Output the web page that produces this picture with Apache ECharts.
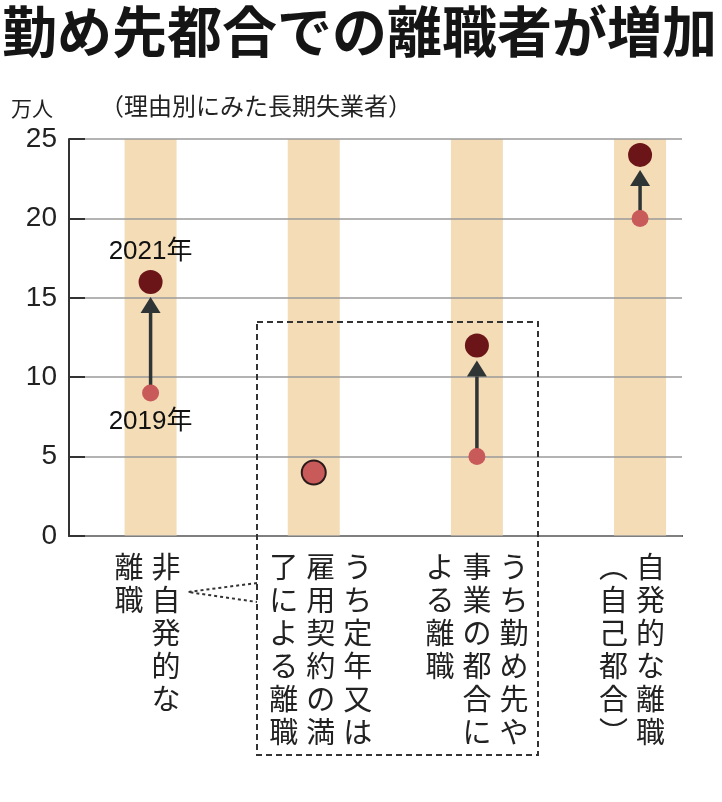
<!DOCTYPE html>
<html>
<head>
<meta charset="utf-8">
<script src="https://cdn.jsdelivr.net/npm/echarts@6/dist/echarts.min.js"></script>
<style>
  html, body { margin: 0; background: #fff; }
  #chart { width: 722px; height: 802px; }
</style>
</head>
<body>
<div id="chart"></div>
<script>
// data
const titleText = '勤め先都合での離職者が増加'
const subtitleText = '（理由別にみた長期失業者）'
const unitText = '万人'
const categories = ['非自発的な離職', 'うち定年又は雇用契約の満了による離職', 'うち勤め先や事業の都合による離職', '自発的な離職（自己都合）']
// vertical label columns, right column first
const labelColumns = [
  ['非自発的な', '離職'],
  ['うち定年又は', '雇用契約の満', '了による離職'],
  ['うち勤め先や', '事業の都合に', 'よる離職'],
  ['自発的な離職', '︵自己都合︶']
]
const catPos = [1, 2, 3, 4]
const values2019 = [9, 4, 5, 20]
const values2021 = [16, null, 12, 24]
const yTicks = [0, 5, 10, 15, 20, 25]

const axisColor = '#333'
const cjk = "'Noto Sans CJK JP', sans-serif"
const latin = "'Liberation Sans', 'Noto Sans CJK JP', sans-serif"
// small horizontal nudges of the label blocks (px, + = right)
const labelNudge = [-3, 7, 0, -8]

function verticalLabel (value) {
  const i = catPos.indexOf(value)
  if (i < 0) return ''
  const cols = labelColumns[i].slice().reverse()
  const rows = Math.max(...cols.map(c => c.length))
  const n = labelNudge[i]
  const lines = []
  for (let r = 0; r < rows; r++) {
    let line = n > 0 ? '{s|}' : ''
    cols.forEach(c => { line += '{c|' + (c[r] || '　') + '}' })
    if (n < 0) line += '{s|}'
    lines.push(line)
  }
  return lines.join('\n').replace(/\{s\|\}/g, '{s' + i + '|}')
}

const spacerRich = {}
labelNudge.forEach((n, i) => { spacerRich['s' + i] = { width: Math.abs(n) * 2, height: 1 } })

const data2019 = values2019.map((v, i) => {
  if (i === 1) {
    // lone point without a 2021 value
    return { value: [catPos[i], v], symbolSize: 24, itemStyle: { borderColor: '#2b1a1a', borderWidth: 2 } }
  }
  return { value: [catPos[i], v], label: { show: i === 0 } }
})
const data2021 = []
values2021.forEach((v, i) => {
  if (v !== null) data2021.push({ value: [catPos[i], v], label: { show: i === 0 } })
})
const arrowData = []
catPos.forEach((p, i) => {
  if (values2021[i] !== null) arrowData.push([p, values2019[i], values2021[i]])
})

const chart = echarts.init(document.getElementById('chart'))
chart.setOption({
  animation: false,
  title: [
    {
      text: titleText, left: 2, top: 4, padding: 0,
      textStyle: { fontSize: 55, fontWeight: 'bold', fontFamily: cjk, color: '#151515' }
    },
    {
      text: subtitleText, left: 100, top: 94, padding: 0,
      textStyle: { fontSize: 24, fontWeight: 'normal', fontFamily: cjk, color: '#222' }
    }
  ],
  grid: { left: 69, right: 40, top: 139, bottom: 266 },
  xAxis: {
    type: 'value',
    min: 0.5,
    max: 4.257,
    axisLine: { lineStyle: { color: axisColor, width: 2 } },
    axisTick: { customValues: catPos, inside: true, length: 10, lineStyle: { color: axisColor, width: 2 } },
    axisLabel: {
      customValues: catPos,
      margin: 14,
      formatter: verticalLabel,
      rich: Object.assign({
        c: { width: 37, align: 'center', fontSize: 29, lineHeight: 33, fontFamily: cjk, color: '#222' }
      }, spacerRich)
    },
    splitLine: { show: false }
  },
  yAxis: {
    type: 'value',
    min: yTicks[0],
    max: yTicks[yTicks.length - 1],
    interval: 5,
    z: 3,
    name: unitText,
    nameLocation: 'end',
    nameGap: 20,
    nameTextStyle: { fontSize: 21, fontFamily: cjk, color: '#222', align: 'right', padding: [0, 16, 0, 0] },
    axisLine: { show: true, lineStyle: { color: axisColor, width: 2 } },
    axisTick: { show: true, inside: true, length: 16, lineStyle: { color: axisColor, width: 2 } },
    axisLabel: { fontSize: 28, margin: 12, fontFamily: latin, color: '#222' },
    splitLine: { lineStyle: { color: '#9a9a9a', width: 1.5 } }
  },
  series: [
    {
      // tan column bands
      type: 'custom',
      z: 1,
      silent: true,
      data: catPos.map(p => [p]),
      renderItem: function (params, api) {
        const top = api.coord([api.value(0), yTicks[yTicks.length - 1]])
        const bottom = api.coord([api.value(0), 0])
        return {
          type: 'rect',
          shape: { x: top[0] - 26, y: top[1], width: 52, height: bottom[1] - top[1] },
          style: { fill: '#f4dcb6' }
        }
      }
    },
    {
      // arrows 2019 -> 2021
      type: 'custom',
      z: 4,
      silent: true,
      data: arrowData,
      renderItem: function (params, api) {
        const from = api.coord([api.value(0), api.value(1)])
        const to = api.coord([api.value(0), api.value(2)])
        const tipY = to[1] + 15
        const baseY = tipY + 16
        return {
          type: 'group',
          children: [
            {
              type: 'line',
              shape: { x1: from[0], y1: from[1], x2: from[0], y2: baseY },
              style: { stroke: '#2f3535', lineWidth: 3.5 }
            },
            {
              type: 'polygon',
              shape: { points: [[to[0], tipY], [to[0] - 10, baseY], [to[0] + 10, baseY]] },
              style: { fill: '#2f3535' }
            }
          ]
        }
      }
    },
    {
      name: '2019年',
      type: 'scatter',
      z: 5,
      symbolSize: 17,
      itemStyle: { color: '#c85a5a', opacity: 1 },
      label: {
        position: 'bottom', distance: 7, formatter: '2019年',
        fontSize: 26, fontFamily: latin, color: '#111'
      },
      data: data2019
    },
    {
      name: '2021年',
      type: 'scatter',
      z: 6,
      symbolSize: 24,
      itemStyle: { color: '#6b1519', opacity: 1 },
      label: {
        position: 'top', distance: 5, formatter: '2021年',
        fontSize: 26, fontFamily: latin, color: '#111'
      },
      data: data2021
    }
  ],
  graphic: [
    {
      type: 'rect',
      z: 10,
      shape: { x: 257, y: 322, width: 281, height: 433 },
      style: { fill: null, stroke: '#333', lineWidth: 2, lineDash: [6, 4] }
    },
    {
      type: 'polyline',
      z: 10,
      shape: { points: [[257, 583], [188, 592], [257, 602]] },
      style: { fill: null, stroke: '#333', lineWidth: 2, lineDash: [3, 3] }
    }
  ]
})
</script>
</body>
</html>
